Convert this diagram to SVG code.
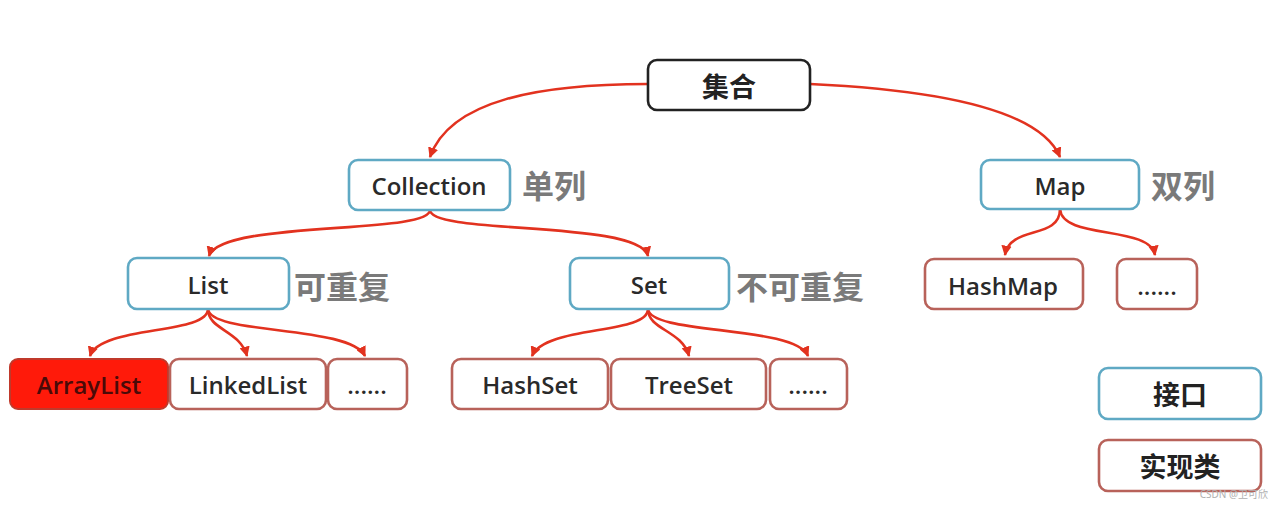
<svg xmlns="http://www.w3.org/2000/svg" width="1280" height="509" viewBox="0 0 1280 509">
<defs>
<marker id="ah" viewBox="0 0 10 10" refX="9" refY="5" markerWidth="4" markerHeight="4" orient="auto-start-reverse" markerUnits="strokeWidth">
<path d="M0,0 L10,5 L0,10 z" fill="#e2321f"/>
</marker>
<style>
.box{stroke-width:2.6;fill:#fff}
.top{stroke:#222}
.ifc{stroke:#5fa9c4}
.imp{stroke:#b8625a}
.t{font-family:"Open Sans","Noto Sans","Noto Sans CJK SC",sans-serif;font-size:24px;font-weight:600;fill:#2a2a2a;text-anchor:middle;dominant-baseline:central}
.cjk{font-family:"Noto Sans CJK SC",sans-serif;font-size:27px;font-weight:600;fill:#222;text-anchor:middle;dominant-baseline:central}
.lbl{font-family:"Noto Sans CJK SC",sans-serif;font-size:32px;font-weight:bold;fill:#7a7a7a;dominant-baseline:central}
.c{fill:none;stroke:#e2321f;stroke-width:2.6;marker-end:url(#ah)}
</style>
</defs>
<rect width="1280" height="509" fill="#fff"/>
<g id="connectors">
<path class="c" d="M648,84 C540,84 450,100 430,157"/>
<path class="c" d="M810,84 C940,90 1040,110 1060,157"/>
<path class="c" d="M430,210 C430,235 220,220 209,256"/>
<path class="c" d="M430,210 C430,235 640,220 648,256"/>
<path class="c" d="M208,309 C208,335 100,325 90,356"/>
<path class="c" d="M208,309 C208,330 240,330 247,356"/>
<path class="c" d="M208,309 C210,335 350,325 365,356"/>
<path class="c" d="M648,309 C648,335 545,325 532,356"/>
<path class="c" d="M648,309 C648,330 682,330 689,356"/>
<path class="c" d="M648,309 C650,335 795,325 808,356"/>
<path class="c" d="M1060,209 C1060,240 1010,225 1005,255"/>
<path class="c" d="M1060,209 C1062,240 1150,225 1155,255"/>
</g>
<g id="jihe"><rect class="box top" x="648" y="60" width="162" height="50" rx="9"/><text class="cjk" x="729" y="85">集合</text></g>
<g id="collection"><rect class="box ifc" x="349" y="160" width="161" height="50" rx="9"/><text class="t" x="429" y="185">Collection</text></g>
<text class="lbl" x="522" y="184">单列</text>
<g id="map"><rect class="box ifc" x="981" y="160" width="158" height="49" rx="9"/><text class="t" x="1060" y="185">Map</text></g>
<text class="lbl" x="1151" y="184">双列</text>
<g id="list"><rect class="box ifc" x="128" y="258" width="161" height="51" rx="9"/><text class="t" x="208" y="284">List</text></g>
<text class="lbl" x="294" y="285">可重复</text>
<g id="set"><rect class="box ifc" x="570" y="258" width="159" height="51" rx="9"/><text class="t" x="649" y="284">Set</text></g>
<text class="lbl" x="736" y="285">不可重复</text>
<g id="hashmap"><rect class="box imp" x="925" y="259" width="158" height="50" rx="9"/><text class="t" x="1003" y="285">HashMap</text></g>
<g id="mapmore"><rect class="box imp" x="1117" y="259" width="80" height="50" rx="9"/><text class="t" x="1157" y="285">......</text></g>
<g id="arraylist"><rect x="10" y="359" width="158" height="50" rx="8" fill="#ff1a0a" stroke="#c0392b" stroke-width="2"/><text class="t" x="89" y="384" style="fill:#4a0a08">ArrayList</text></g>
<g id="linkedlist"><rect class="box imp" x="170" y="359" width="156" height="50" rx="9"/><text class="t" x="248" y="384">LinkedList</text></g>
<g id="listmore"><rect class="box imp" x="328" y="359" width="79" height="50" rx="9"/><text class="t" x="367" y="384">......</text></g>
<g id="hashset"><rect class="box imp" x="452" y="359" width="156" height="50" rx="9"/><text class="t" x="530" y="384">HashSet</text></g>
<g id="treeset"><rect class="box imp" x="611" y="359" width="155" height="50" rx="9"/><text class="t" x="689" y="384">TreeSet</text></g>
<g id="setmore"><rect class="box imp" x="770" y="359" width="77" height="50" rx="9"/><text class="t" x="808" y="384">......</text></g>
<g id="legend-interface"><rect class="box ifc" x="1099" y="368" width="162" height="51" rx="9"/><text class="cjk" x="1180" y="393">接口</text></g>
<g id="legend-impl"><rect class="box imp" x="1099" y="440" width="162" height="51" rx="9"/><text class="cjk" x="1180" y="465">实现类</text></g>
<text x="1268" y="498" font-family="'Noto Sans','Noto Sans CJK SC',sans-serif" font-size="10" fill="#b0b0b0" text-anchor="end">CSDN @卫可欣</text>
</svg>
